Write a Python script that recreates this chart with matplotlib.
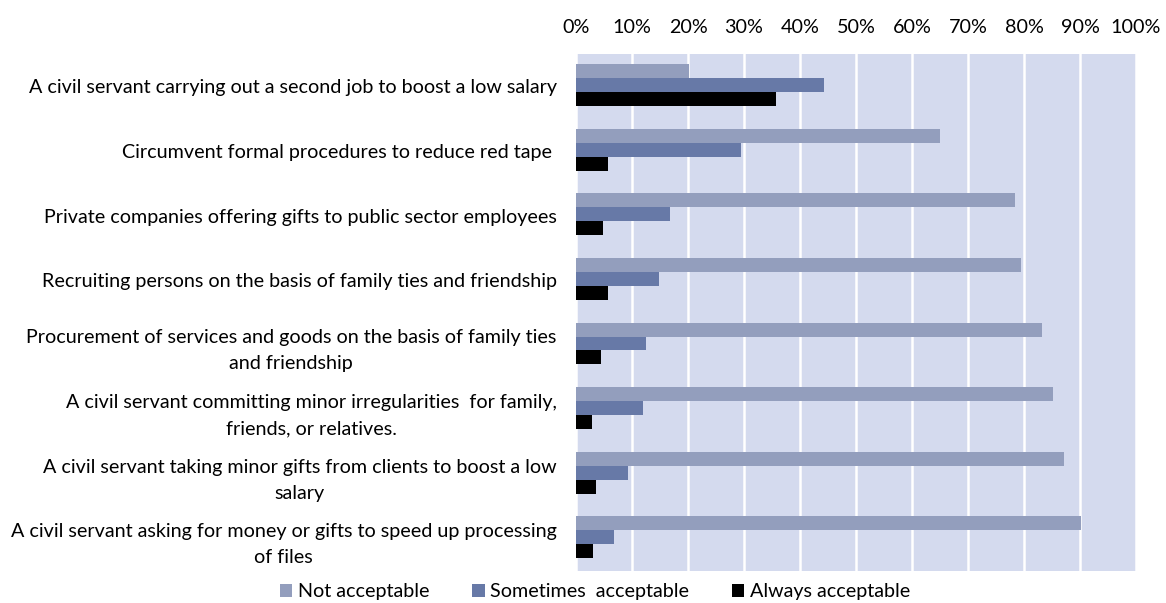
import matplotlib
matplotlib.use("Agg")
import matplotlib.pyplot as plt
import numpy as np
from matplotlib.patches import Patch
from matplotlib.ticker import PercentFormatter

# Survey items, top to bottom as shown
categories = [
    "A civil servant carrying out a second job to boost a low salary",
    "Circumvent formal procedures to reduce red tape ",
    "Private companies offering gifts to public sector employees",
    "Recruiting persons on the basis of family ties and friendship",
    "Procurement of services and goods on the basis of family ties\nand friendship",
    "A civil servant committing minor irregularities  for family,\nfriends, or relatives.",
    "A civil servant taking minor gifts from clients to boost a low\nsalary",
    "A civil servant asking for money or gifts to speed up processing\nof files",
]
not_acceptable = [20.2, 65.0, 78.4, 79.5, 83.2, 85.1, 87.1, 90.1]
sometimes_acceptable = [44.3, 29.4, 16.7, 14.8, 12.5, 11.9, 9.3, 6.8]
always_acceptable = [35.7, 5.7, 4.9, 5.8, 4.4, 2.9, 3.6, 3.1]

series_labels = ["Not acceptable", "Sometimes  acceptable", "Always acceptable"]
series_colors = ["#939EBD", "#6779A7", "#000000"]

FS = 14.2
plt.rcParams["font.family"] = ["Lato", "DejaVu Sans"]
plt.rcParams["font.size"] = FS

fig = plt.figure(figsize=(11.66, 6.03), dpi=100)
ax = fig.add_axes([576 / 1166, 1 - 571 / 603, 560 / 1166, 517 / 603])

y = np.arange(len(categories))
h = 0.216
for k, (vals, col) in enumerate(zip(
        [not_acceptable, sometimes_acceptable, always_acceptable], series_colors)):
    ax.barh(y - 0.02 - h + k * h, vals, height=h, color=col, zorder=3)

ax.set_facecolor("#D4DAEE")
ax.set_xlim(0, 100)
ax.set_ylim(len(categories) - 0.5, -0.5)
ax.set_xticks(np.arange(0, 101, 10))
ax.xaxis.set_major_formatter(PercentFormatter(decimals=0))
ax.xaxis.tick_top()
ax.tick_params(axis="x", length=0, pad=13)
ax.grid(axis="x", color="white", lw=1.8, zorder=1)
ax.set_axisbelow(True)
for s in ax.spines.values():
    s.set_visible(False)

ax.set_yticks(y)
ax.set_yticklabels(categories, multialignment="center", linespacing=1.65)
ax.tick_params(axis="y", length=0, pad=14)

handles = [Patch(facecolor=c, label=l) for c, l in zip(series_colors, series_labels)]
fig.legend(handles=handles, loc="center", bbox_to_anchor=(595 / 1166, 1 - 592 / 603),
           ncol=3, frameon=False, handlelength=0.62, handleheight=0.62,
           handletextpad=0.26, columnspacing=2.2, fontsize=FS,
           borderpad=0, borderaxespad=0)

fig.savefig("out.png", dpi=100)
